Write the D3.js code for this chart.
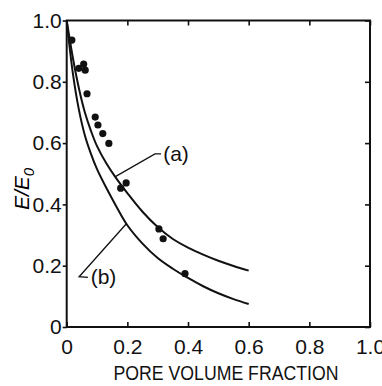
<!DOCTYPE html>
<html>
<head>
<meta charset="utf-8">
<script src="https://cdnjs.cloudflare.com/ajax/libs/d3/7.8.5/d3.min.js"></script>
<style>
  body { margin: 0; background: #fff; }
  svg text { font-family: "Liberation Sans Narrow", "Liberation Sans", Arial, sans-serif; fill: #111; }
</style>
</head>
<body>
<div id="chart"></div>
<script>
// tick labels
var xTicks = [0, 0.2, 0.4, 0.6, 0.8, 1.0];
var xTickLabels = ["0", "0.2", "0.4", "0.6", "0.8", "1.0"];
var yTicks = [0, 0.2, 0.4, 0.6, 0.8, 1.0];
var yTickLabels = ["0", "0.2", "0.4", "0.6", "0.8", "1.0"];

// measured points
var poreX = [0.017, 0.040, 0.056, 0.061, 0.067, 0.094, 0.103, 0.119, 0.139, 0.178, 0.196, 0.304, 0.318, 0.390];
var modulusY = [0.936, 0.844, 0.858, 0.838, 0.761, 0.685, 0.659, 0.631, 0.599, 0.453, 0.470, 0.320, 0.288, 0.174];

// curves (a) and (b)
var curveX = [0, 0.02, 0.04, 0.06, 0.08, 0.10, 0.13, 0.16, 0.20, 0.25, 0.30, 0.35, 0.40, 0.45, 0.50, 0.55, 0.60];
var curveA = [1.00, 0.88, 0.78, 0.70, 0.64, 0.59, 0.535, 0.49, 0.437, 0.376, 0.326, 0.287, 0.259, 0.236, 0.216, 0.199, 0.184];
var curveB = [1.00, 0.83, 0.71, 0.625, 0.565, 0.515, 0.455, 0.40, 0.332, 0.272, 0.225, 0.19, 0.16, 0.133, 0.11, 0.091, 0.075];

// leader lines: curve anchor -> elbow -> label end
var labelA = {text: "(a)", pts: [[0.159, 0.49], [0.291, 0.565], [0.311, 0.565]], at: [0.318, 0.565]};
var labelB = {text: "(b)", pts: [[0.196, 0.336], [0.041, 0.164], [0.070, 0.162]], at: [0.079, 0.163]};

var W = 382, H = 386;
var x = d3.scaleLinear().domain([0, 1]).range([66.7, 370]);
var y = d3.scaleLinear().domain([0, 1]).range([327, 20.5]);

var svg = d3.select("#chart").append("svg")
	.attr("width", W)
	.attr("height", H);

// frame
svg.append("rect")
	.attr("x", x(0)).attr("y", y(1))
	.attr("width", x(1) - x(0)).attr("height", y(0) - y(1))
	.style("fill", "none").style("stroke", "#111").style("stroke-width", 2);

function fmt(arr, vals) {
	return function(d) { return arr[vals.indexOf(d)]; };
}

var axBottom = svg.append("g")
	.attr("transform", "translate(0," + y(0) + ")")
	.call(d3.axisBottom(x).tickValues(xTicks).tickFormat(fmt(xTickLabels, xTicks)).tickSize(-5).tickPadding(12));
var axLeft = svg.append("g")
	.attr("transform", "translate(" + x(0) + ",0)")
	.call(d3.axisLeft(y).tickValues(yTicks).tickFormat(fmt(yTickLabels, yTicks)).tickSize(4).tickPadding(1));
var axTop = svg.append("g")
	.attr("transform", "translate(0," + y(1) + ")")
	.call(d3.axisTop(x).tickValues(xTicks).tickFormat("").tickSize(-5));
var axRight = svg.append("g")
	.attr("transform", "translate(" + x(1) + ",0)")
	.call(d3.axisRight(y).tickValues(yTicks).tickFormat("").tickSize(-5));

[axBottom, axLeft, axTop, axRight].forEach(function(g) {
	g.select(".domain").remove();
	g.selectAll(".tick line").style("stroke", "#111").style("stroke-width", 1.6);
	g.selectAll(".tick text").style("font-size", "21px").style("fill", "#111")
		.style("font-family", "'Liberation Sans Narrow', 'Liberation Sans', Arial, sans-serif");
});
axBottom.selectAll(".tick text").attr("dy", "0.71em");

// axis titles
svg.append("text")
	.attr("x", 226).attr("y", 380)
	.attr("text-anchor", "middle")
	.attr("textLength", 225).attr("lengthAdjust", "spacingAndGlyphs")
	.style("font-size", "21px")
	.text("PORE VOLUME FRACTION");

var yl = svg.append("text")
	.attr("transform", "translate(29,189) rotate(-90)")
	.attr("text-anchor", "middle")
	.style("font-size", "21px").style("font-style", "italic").style("fill", "#000");
yl.append("tspan").style("fill", "#000").text("E/E");
yl.append("tspan").attr("dy", "0.3em").style("font-size", "15px").style("fill", "#000").text("0");

// curves
var line = d3.line()
	.x(function(d) { return x(d[0]); })
	.y(function(d) { return y(d[1]); })
	.curve(d3.curveCatmullRom.alpha(0.5));

[curveA, curveB].forEach(function(c) {
	svg.append("path")
		.datum(curveX.map(function(v, i) { return [v, c[i]]; }))
		.attr("d", line)
		.style("fill", "none").style("stroke", "#111").style("stroke-width", 2);
});

// leaders and labels
var straight = d3.line()
	.x(function(d) { return x(d[0]); })
	.y(function(d) { return y(d[1]); });

[labelA, labelB].forEach(function(l) {
	svg.append("path")
		.attr("d", straight(l.pts))
		.style("fill", "none").style("stroke", "#111").style("stroke-width", 1.3);
	svg.append("text")
		.attr("x", x(l.at[0])).attr("y", y(l.at[1]))
		.attr("dy", "0.35em")
		.style("font-size", "21px")
		.text(l.text);
});

// data points
svg.selectAll("circle.pt")
	.data(poreX)
	.enter().append("circle")
	.attr("class", "pt")
	.attr("cx", function(d) { return x(d); })
	.attr("cy", function(d, i) { return y(modulusY[i]); })
	.attr("r", 3.6)
	.style("fill", "#111");
</script>
</body>
</html>
